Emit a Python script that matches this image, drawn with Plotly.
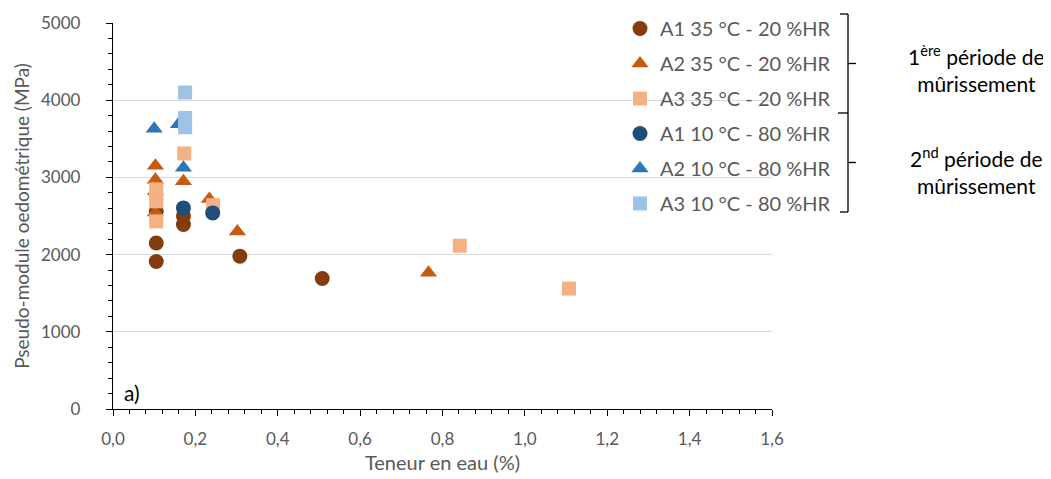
import plotly.graph_objects as go

# Data (Teneur en eau %, Pseudo-module MPa)
a1_35_x = [0.105, 0.105, 0.105, 0.171, 0.171, 0.308, 0.508]
a1_35_y = [1910, 2150, 2560, 2390, 2500, 1980, 1690]
a2_35_x = [0.103, 0.103, 0.103, 0.103, 0.171, 0.234, 0.302, 0.766]
a2_35_y = [3150, 2970, 2820, 2545, 2950, 2720, 2300, 1765]
a3_35_x = [0.105, 0.105, 0.105, 0.105, 0.173, 0.243, 0.842, 1.107]
a3_35_y = [2845, 2765, 2690, 2430, 3310, 2640, 2115, 1560]
a1_10_x = [0.171, 0.242]
a1_10_y = [2605, 2540]
a2_10_x = [0.100, 0.159, 0.171]
a2_10_y = [3630, 3690, 3125]
a3_10_x = [0.175, 0.175, 0.175]
a3_10_y = [4100, 3770, 3650]

names = ["A1 35 °C - 20 %HR", "A2 35 °C - 20 %HR", "A3 35 °C - 20 %HR",
         "A1 10 °C - 80 %HR", "A2 10 °C - 80 %HR", "A3 10 °C - 80 %HR"]
colors = ["#843C0C", "#C55A11", "#F4B183", "#1F4E79", "#2E75B6", "#9DC3E6"]
symbols = ["circle", "triangle-up", "square", "circle", "triangle-up", "square"]
sizes = [15, 15, 14, 15, 15, 14]
xs = [a1_35_x, a2_35_x, a3_35_x, a1_10_x, a2_10_x, a3_10_x]
ys = [a1_35_y, a2_35_y, a3_35_y, a1_10_y, a2_10_y, a3_10_y]

FONT = "Lato"
GREY = "#595959"

fig = go.Figure()
for n, c, s, sz, x, y in zip(names, colors, symbols, sizes, xs, ys):
    fig.add_trace(go.Scatter(x=x, y=y, mode="markers", name=n, legendgroup=n,
                             marker=dict(color=c, symbol=s, size=sz, line=dict(width=0))))

# the page body adds an 8 px offset; figure is sized so the plot lands where the reference has it
W, H = 1043, 471
L, R, T, B = 105, 279, 15, 70
pw = W - L - R   # 659
ph = H - T - B   # 386

def px(xp):  # page x (reference pixels) -> paper
    return (xp - 113) / pw

def py(yp):  # page y (reference pixels) -> paper
    return (409 - yp) / ph

fig.update_layout(
    width=W, height=H,
    margin=dict(l=L, r=R, t=T, b=B, autoexpand=False),
    paper_bgcolor="white", plot_bgcolor="white",
    separators=",.",
    font=dict(family=FONT, size=16, color=GREY),
    showlegend=True,
    legend=dict(x=px(620), y=py(9), xanchor="left", yanchor="top",
                bgcolor="rgba(0,0,0,0)", font=dict(size=20, color=GREY),
                itemsizing="trace", tracegroupgap=6),
    xaxis=dict(range=[0, 1.6], dtick=0.2, tickformat=".1f", showgrid=False,
               automargin=False,
               showline=True, linecolor="black", linewidth=1.3,
               ticks="outside", ticklen=6, tickcolor="black", tickwidth=1.3,
               ticklabelstandoff=8,
               minor=dict(dtick=0.04, ticks="outside", ticklen=4, tickcolor="black"),
               zeroline=False,
               title=dict(text="Teneur en eau (%)", font=dict(size=20, color=GREY), standoff=8),
               tickfont=dict(size=17, color=GREY)),
    yaxis=dict(range=[0, 5000], dtick=1000, showgrid=True, gridcolor="#D9D9D9", gridwidth=1.3,
               automargin=False,
               showline=True, linecolor="black", linewidth=1.3,
               ticks="outside", ticklen=6, tickcolor="black", tickwidth=1.3,
               ticklabelstandoff=22,
               minor=dict(dtick=200, ticks="outside", ticklen=4, tickcolor="black", showgrid=False),
               zeroline=False,
               title=dict(text="Pseudo-module oedométrique (MPa)", font=dict(size=19, color=GREY), standoff=6),
               tickfont=dict(size=17, color=GREY)),
    # overlay axes giving the inner half of the crossing major ticks
    xaxis2=dict(range=[0, 1.6], dtick=0.2, overlaying="x", anchor="y", side="bottom",
                showgrid=False, showline=False, zeroline=False, showticklabels=False,
                ticks="inside", ticklen=6, tickcolor="black", tickwidth=1.3, automargin=False),
    yaxis2=dict(range=[0, 5000], dtick=1000, overlaying="y", anchor="x", side="left",
                showgrid=False, showline=False, zeroline=False, showticklabels=False,
                ticks="inside", ticklen=6, tickcolor="black", tickwidth=1.3, automargin=False),
)

# brackets
bx = 848
shapes = []
for top, bot in [(14, 113), (113, 212)]:
    mid = (top + bot) / 2
    shapes.append(dict(type="line", xref="paper", yref="paper", x0=px(bx), x1=px(bx), y0=py(top), y1=py(bot),
                       line=dict(color="black", width=1.3)))
    shapes.append(dict(type="line", xref="paper", yref="paper", x0=px(bx), x1=px(bx + 8), y0=py(mid), y1=py(mid),
                       line=dict(color="black", width=1.3)))
for yy in [14, 212]:
    shapes.append(dict(type="line", xref="paper", yref="paper", x0=px(bx - 8), x1=px(bx), y0=py(yy), y1=py(yy),
                       line=dict(color="black", width=1.3)))
shapes.append(dict(type="line", xref="paper", yref="paper", x0=px(bx - 10), x1=px(bx), y0=py(113), y1=py(113),
                   line=dict(color="black", width=1.3)))
fig.update_layout(shapes=shapes)

fig.add_annotation(xref="paper", yref="paper", x=px(976), y=py(69), xanchor="center", yanchor="middle",
                   text="1<sup>ère</sup> période de<br>mûrissement", showarrow=False, align="center",
                   font=dict(family=FONT, size=21, color="black"))
fig.add_annotation(xref="paper", yref="paper", x=px(976), y=py(170), xanchor="center", yanchor="middle",
                   text="2<sup>nd</sup> période de<br>mûrissement", showarrow=False, align="center",
                   font=dict(family=FONT, size=21, color="black"))
fig.add_annotation(xref="paper", yref="paper", x=px(122), y=py(392), xanchor="left", yanchor="middle",
                   text="a)", showarrow=False, font=dict(family=FONT, size=21, color="black"))

fig.write_html("out.html")
